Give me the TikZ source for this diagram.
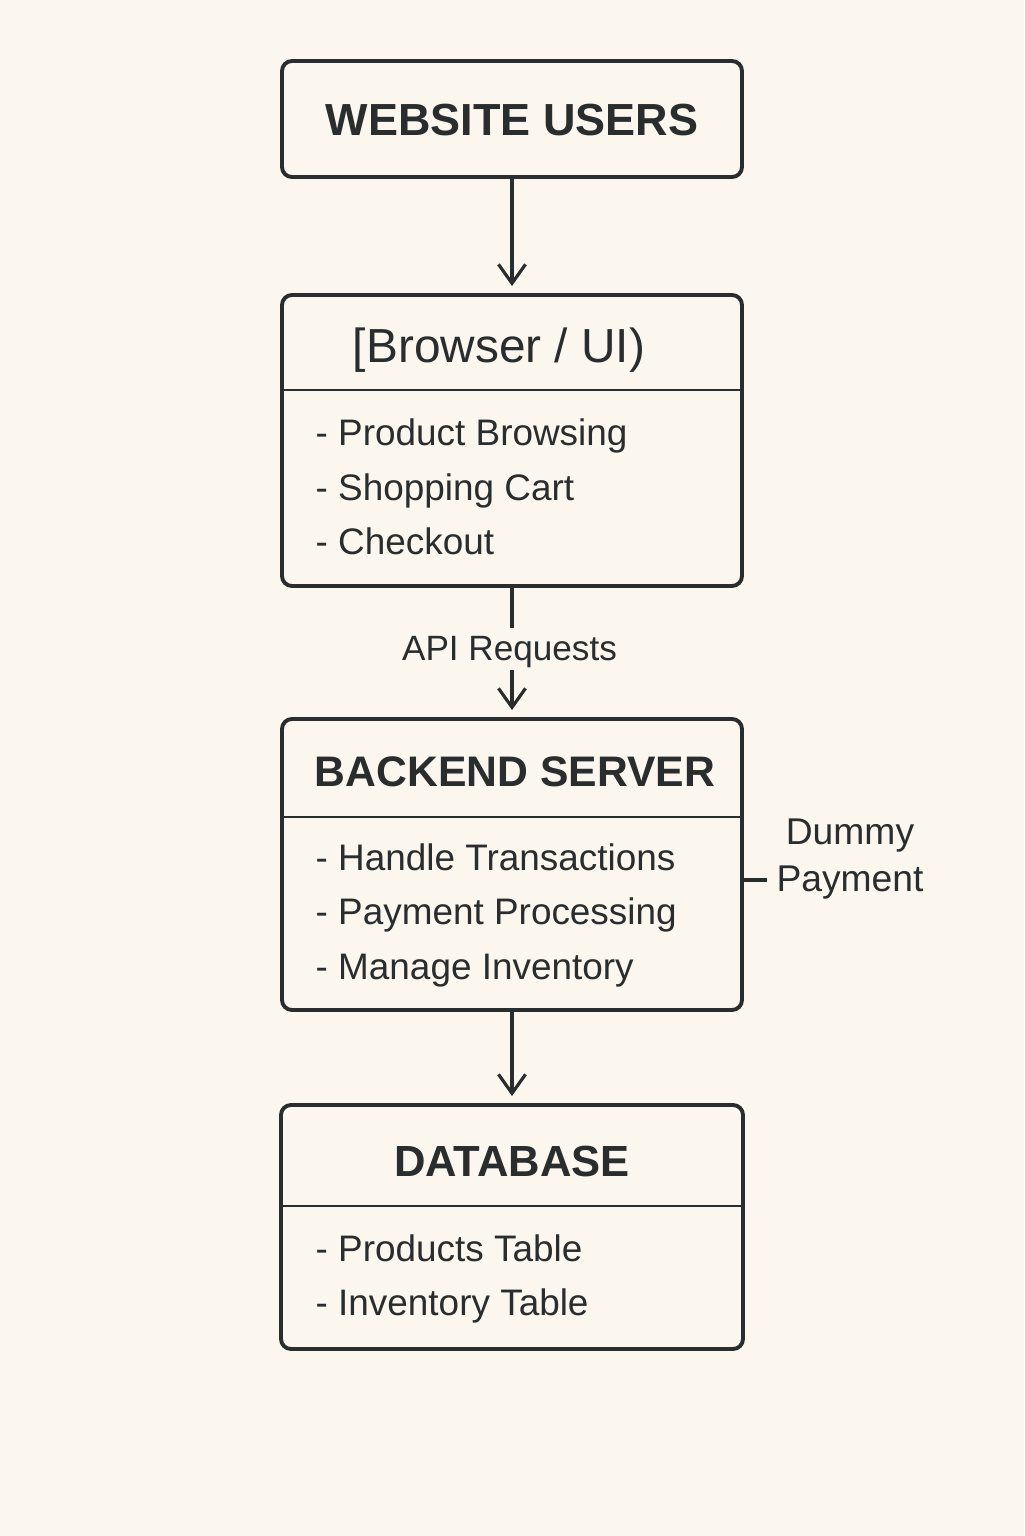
\documentclass[tikz,border=0pt]{standalone}
\usepackage{fontspec}
\setmainfont{Liberation Sans}
\usetikzlibrary{positioning,arrows.meta}

\definecolor{paper}{HTML}{FBF7EF}
\definecolor{ink}{HTML}{2A2D2D}

\tikzset{
  box/.style={draw=ink,line width=1.1pt,rounded corners=0.1cm,minimum width=4.6cm,inner sep=0pt},
  divider/.style={draw=ink,line width=0.6pt},
  title/.style={anchor=base,inner sep=0pt,text=ink,font=\fontsize{12.4pt}{14pt}\selectfont\bfseries},
  item/.style={anchor=base west,inner sep=0pt,text=ink,font=\fontsize{10.5pt}{13pt}\selectfont},
  arr/.style={draw=ink,line width=0.9pt,shorten >=0.07cm,-{Straight Barb[length=0.19cm,width=0.27cm]}}
}

\begin{document}
\begin{tikzpicture}[node distance=2cm,on grid]
  \useasboundingbox[fill=paper] (0,0) rectangle (10.24,-15.36);

  % boxes
  \node[box,minimum height=1.16cm] (users) at (5.12,-1.19) {};
  \node[box,minimum height=2.91cm] (browser) [below=3.215cm of users] {};
  \node[box,minimum height=2.91cm] (backend) [below=4.24cm of browser] {};
  \node[box,minimum height=2.44cm,minimum width=4.62cm] (database) [below=3.625cm of backend] {};

  % dividers
  \draw[divider] (browser.west |- 0,-3.90) -- (browser.east |- 0,-3.90);
  \draw[divider] (backend.west |- 0,-8.17) -- (backend.east |- 0,-8.17);
  \draw[divider] (database.west |- 0,-12.06) -- (database.east |- 0,-12.06);

  % titles
  \node[title,font=\fontsize{12.8pt}{15pt}\selectfont\bfseries] (usersT) at (5.12,-1.36) {WEBSITE USERS};
  \node[title,font=\fontsize{13.6pt}{16pt}\selectfont] (browserT) at (4.99,-3.62) {[Browser / UI)};
  \node[title,font=\fontsize{12.15pt}{14pt}\selectfont\bfseries] (backendT) at (5.15,-7.86) {BACKEND SERVER};
  \node[title] (databaseT) at (5.12,-11.76) {DATABASE};

  % items
  \node[item] (b1) at (3.15,-4.45) {- Product Browsing};
  \node[item] (b2) at (3.15,-5.00) {- Shopping Cart};
  \node[item] (b3) at (3.15,-5.54) {- Checkout};
  \node[item] (s1) at (3.15,-8.70) {- Handle Transactions};
  \node[item] (s2) at (3.15,-9.24) {- Payment Processing};
  \node[item] (s3) at (3.15,-9.79) {- Manage Inventory};
  \node[item] (d1) at (3.15,-12.61) {- Products Table};
  \node[item] (d2) at (3.15,-13.15) {- Inventory Table};

  % labels
  \node[text=ink,inner sep=0pt,minimum height=0.42cm,font=\fontsize{10pt}{12pt}\selectfont] (api) at (5.095,-6.52) {API Requests};
  \node[text=ink,inner sep=0pt,align=center,font=\fontsize{10.6pt}{13.4pt}\selectfont] (dummy) at (8.50,-8.59) {Dummy\\Payment};
  \coordinate (stub) at (7.67,-8.80);

  % connectors
  \draw[arr] (users) -- (browser);
  \draw[draw=ink,line width=0.9pt] (browser.south) -- (browser.south |- 0,-6.28);
  \draw[arr] (browser.south |- 0,-6.70) -- (backend.north);
  \draw[draw=ink,line width=0.9pt] (backend.east |- stub) -- (stub);
  \draw[arr] (backend) -- (database);
\end{tikzpicture}
\end{document}
